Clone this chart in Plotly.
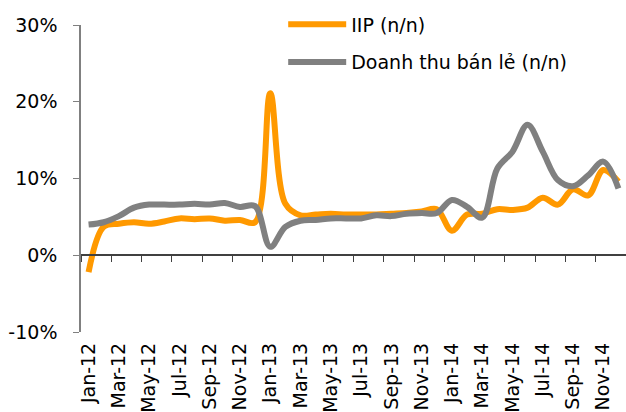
import plotly.graph_objects as go

months = ["Jan-12","Feb-12","Mar-12","Apr-12","May-12","Jun-12","Jul-12","Aug-12","Sep-12","Oct-12","Nov-12","Dec-12",
          "Jan-13","Feb-13","Mar-13","Apr-13","May-13","Jun-13","Jul-13","Aug-13","Sep-13","Oct-13","Nov-13","Dec-13",
          "Jan-14","Feb-14","Mar-14","Apr-14","May-14","Jun-14","Jul-14","Aug-14","Sep-14","Oct-14","Nov-14","Dec-14"]

iip = [-2.2, 3.7, 4.1, 4.3, 4.1, 4.4, 4.8, 4.7, 4.8, 4.5, 4.6, 4.3,
       21.1, 6.7, 5.2, 5.3, 5.4, 5.3, 5.3, 5.3, 5.4, 5.5, 5.7, 6.0,
       3.2, 5.3, 5.4, 6.0, 5.9, 6.2, 7.5, 6.6, 8.6, 7.8, 11.1, 9.6]

retail = [4.0, 4.3, 5.1, 6.2, 6.6, 6.6, 6.6, 6.7, 6.6, 6.8, 6.3, 6.4,
          1.1, 3.7, 4.5, 4.6, 4.8, 4.8, 4.8, 5.2, 5.1, 5.4, 5.5, 5.5,
          7.2, 6.3, 4.9, 11.3, 13.5, 17.0, 13.5, 9.8, 9.0, 10.4, 12.2, 8.7]

y_ticks = [-10, 0, 10, 20, 30]
y_labels = ["-10%", "0%", "10%", "20%", "30%"]

names = ["IIP (n/n)", "Doanh thu bán lẻ (n/n)"]
colors = ["#FF9900", "#808080"]
FONT = "DejaVu Sans"

fig = go.Figure()
for nm, vals, col in zip(names, [iip, retail], colors):
    fig.add_trace(go.Scatter(x=months, y=vals, name=nm, mode="lines",
                             line=dict(color=col, width=6, shape="spline", smoothing=1),
                             legendgroup=nm))
# helper trace so that the zero-line axis (ticks) is drawn
fig.add_trace(go.Scatter(x=months, y=[None]*len(months), xaxis="x2", showlegend=False,
                         hoverinfo="skip", mode="lines"))

fig.update_layout(
    width=626, height=412,
    margin=dict(l=81, r=0, t=25, b=80, autoexpand=False),
    paper_bgcolor="white", plot_bgcolor="white",
    font=dict(family=FONT, size=19, color="black"),
    showlegend=True,
    legend=dict(x=0.371, y=1.064, xanchor="left", yanchor="top",
                bgcolor="rgba(0,0,0,0)", font=dict(size=19),
                traceorder="grouped", tracegroupgap=10, itemwidth=58),
    xaxis=dict(type="category", categoryorder="array", categoryarray=months,
               range=[-0.5, len(months)-0.5], tickmode="array",
               tickvals=months[::2], ticktext=months[::2], tickangle=-90,
               showline=False, ticks="", showgrid=False, zeroline=False,
               tickfont=dict(size=19), ticklabelstandoff=6, automargin=False),
    xaxis2=dict(type="category", categoryorder="array", categoryarray=months,
                overlaying="x", anchor="free", position=0.25,
                range=[-0.5, len(months)-0.5], tickmode="linear", tick0=0, dtick=2,
                tickson="boundaries", ticks="outside", ticklen=6, tickcolor="#404040",
                showline=True, linecolor="#404040", linewidth=1.5,
                showticklabels=False, showgrid=False, zeroline=False, automargin=False),
    yaxis=dict(range=[-10, 30], tickmode="array", tickvals=y_ticks, ticktext=y_labels,
               showline=True, linecolor="#808080", linewidth=1.5,
               ticks="outside", ticklen=6, tickcolor="#808080",
               showgrid=False, zeroline=False, ticklabelstandoff=12, automargin=False),
)

fig.write_html("out.html", config={"displayModeBar": False},
               post_script="document.body.style.margin='0';document.body.style.overflow='hidden';")
